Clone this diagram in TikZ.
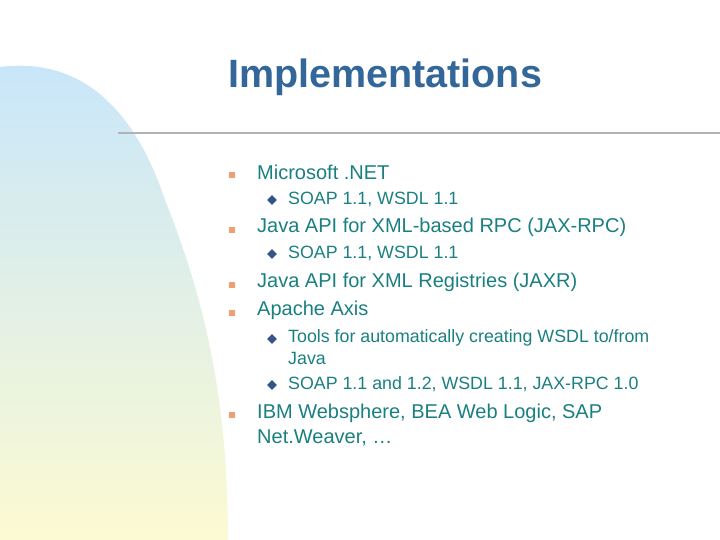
\documentclass[tikz,border=0pt]{standalone}
\usepackage{fontspec}
\setmainfont{Liberation Sans}
\usetikzlibrary{shapes.geometric}
\begin{document}
\begin{tikzpicture}[x=1pt,y=-1pt,
 lvA/.style={anchor=west,text=tx,font=\fontsize{20}{25}\selectfont,align=left,inner sep=0},
 lvB/.style={anchor=west,text=tx,font=\fontsize{17.8}{20}\selectfont,align=left,inner sep=0},
 sq/.style={fill=sqc,minimum size=6pt,inner sep=0},
 dm/.style={fill=dmc,diamond,shape aspect=1,minimum size=10pt,inner sep=0}]
\definecolor{tcol}{HTML}{336699}
\definecolor{tx}{HTML}{1A7F80}
\definecolor{sqc}{HTML}{F0A070}
\definecolor{dmc}{HTML}{33558A}
\definecolor{topc}{HTML}{C8E6FA}
\definecolor{botc}{HTML}{FCFAD2}
\useasboundingbox (0,0) rectangle (720,540);
\shade[top color=topc,bottom color=botc] (0,67) .. controls (70,58) and (130,95) .. (165,200) .. controls (205,300) and (228,400) .. (228,540) -- (0,540) -- cycle;
\node[anchor=west,text=tcol,font=\bfseries\fontsize{39.5}{44}\selectfont,inner sep=0] (title) at (228,77) {Implementations};
\draw[gray!60,line width=1.5pt] (118,133) -- (720,133);
\node[sq] (b1) at (232,175) {}; \node[lvA] (t1) at (257,172) {Microsoft .NET};
\node[dm] (d1) at (272,200) {}; \node[lvB] (s1) at (288,199) {SOAP 1.1, WSDL 1.1};
\node[sq] (b2) at (232,230) {}; \node[lvA] (t2) at (257,227) {Java API for XML-based RPC (JAX-RPC)};
\node[dm] (d2) at (272,254) {}; \node[lvB] (s2) at (288,253) {SOAP 1.1, WSDL 1.1};
\node[sq] (b3) at (232,285) {}; \node[lvA] (t3) at (257,282) {Java API for XML Registries (JAXR)};
\node[sq] (b4) at (232,313) {}; \node[lvA] (t4) at (257,310) {Apache Axis};
\node[dm] (d3) at (272,339) {}; \node[lvB] (s3) at (288,338) {Tools for automatically creating WSDL to/from};
\node[lvB] (s3b) at (288,358) {Java};
\node[dm] (d4) at (272,385) {}; \node[lvB] (s4) at (288,384) {SOAP 1.1 and 1.2, WSDL 1.1, JAX-RPC 1.0};
\node[sq] (b5) at (232,415) {}; \node[lvA] (t5) at (257,413) {IBM Websphere, BEA Web Logic, SAP};
\node[lvA] (t5b) at (257,438) {Net.Weaver, \dots};
\end{tikzpicture}
\end{document}
